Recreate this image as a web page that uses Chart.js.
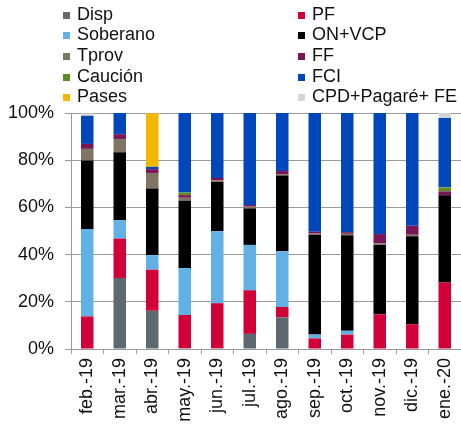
<!DOCTYPE html>
<html>
<head>
<meta charset="utf-8">
<script src="https://cdn.jsdelivr.net/npm/chart.js@4"></script>
<style>
  body { margin: 0; background: #fff; }
  #wrap { position: relative; width: 461px; height: 429px; }
  #legend { position: absolute; left: 0; top: 0; font-family: 'Liberation Sans', Arial, sans-serif; font-size: 18px; color: #111; }
  .item { position: absolute; height: 21px; line-height: 21px; white-space: nowrap; }
  .box { display: inline-block; width: 7px; height: 7px; margin-right: 7px; vertical-align: 1px; }
</style>
</head>
<body>
<div id="wrap">
  <canvas id="chart" width="461" height="429"></canvas>
  <div id="legend"></div>
</div>
<script>
// months on the x axis
const months = ['feb.-19', 'mar.-19', 'abr.-19', 'may.-19', 'jun.-19', 'jul.-19',
                'ago.-19', 'sep.-19', 'oct.-19', 'nov.-19', 'dic.-19', 'ene.-20'];

// share of each instrument, %
const disp     = [0, 30.1, 16.2, 0.3, 0.3, 6.4, 13.4, 0, 0, 0, 0, 0];
const pf       = [13.8, 16.7, 17.4, 14.1, 19.1, 18.5, 4.4, 4.5, 6.1, 14.7, 10.5, 28.2];
const soberano = [37.1, 7.8, 6.2, 19.9, 30.5, 19.2, 23.6, 1.6, 1.6, 0, 0, 0];
const onVcp    = [29, 28.8, 28.2, 28.5, 20.9, 15.5, 32.1, 42.2, 40.5, 29.4, 37.3, 36.9];
const tprov    = [4.9, 5.6, 6.6, 1.3, 0.7, 0.7, 0.6, 0.6, 0.6, 0.6, 0.6, 0];
const ff       = [2.1, 2, 1.6, 1.1, 1, 0.7, 1.3, 0.8, 0.7, 4, 3.8, 1.7];
const caucion  = [0, 0, 0, 1.1, 0, 0, 0, 0, 0, 0, 0, 1.7];
const fci      = [11.9, 9, 1, 33.7, 27.5, 39, 24.7, 50.3, 50.5, 51.3, 47.8, 29.4];
const pases    = [0, 0, 22.7, 0, 0, 0, 0, 0, 0, 0, 0, 0];
const cpd      = [1.1, 0, 0, 0, 0, 0, 0, 0, 0, 0, 0, 2.1];

const yTicks = [0, 20, 40, 60, 80, 100];

const series = [
    ['Disp', disp, '#5d6970'],
    ['PF', pf, '#d10038'],
    ['Soberano', soberano, '#62b1e6'],
    ['ON+VCP', onVcp, '#000000'],
    ['Tprov', tprov, '#807462'],
    ['FF', ff, '#7a1557'],
    ['Caución', caucion, '#5a8f23'],
    ['FCI', fci, '#0047bb'],
    ['Pases', pases, '#f2b700'],
    ['CPD+Pagaré+ FE', cpd, '#d5d5d5']
];

Chart.defaults.font.family = "'Liberation Sans', Arial, sans-serif";
Chart.defaults.font.size = 18;
Chart.defaults.color = '#111';

const datasets = series.map(function(s) {
    return {
        label: s[0],
        data: s[1],
        backgroundColor: s[2],
        borderWidth: 0,
        categoryPercentage: 0.385,
        barPercentage: 1
    };
});

const gridColor = '#9a9a9a';

const chart = new Chart(document.getElementById('chart'), {
    type: 'bar',
    data: { labels: months, datasets: datasets },
    options: {
        responsive: false,
        animation: false,
        layout: { padding: { top: 113, left: 0, right: 0, bottom: 0 } },
        plugins: { legend: { display: false }, tooltip: { enabled: false } },
        scales: {
            x: {
                stacked: true,
                grid: { drawOnChartArea: false, color: gridColor, tickLength: 5 },
                border: { color: gridColor },
                ticks: { minRotation: 90, maxRotation: 90, autoSkip: false, padding: 4, color: '#111' },
                afterFit: function(scale) {
                    scale.height = 80;
                    scale.paddingLeft = 0;
                    scale.paddingRight = 0;
                }
            },
            y: {
                stacked: true,
                min: 0,
                max: 100,
                afterBuildTicks: function(scale) {
                    scale.ticks = yTicks.map(function(v) { return { value: v }; });
                },
                grid: { color: gridColor, tickLength: 6 },
                border: { color: gridColor },
                ticks: {
                    padding: 11,
                    color: '#111',
                    callback: function(v) { return v + '%'; }
                },
                afterFit: function(scale) { scale.width = 71; }
            }
        }
    }
});

// two-column legend, same order as the stack
const legend = document.getElementById('legend');
chart.data.datasets.forEach(function(ds, i) {
    const row = Math.floor(i / 2), col = i % 2;
    const item = document.createElement('div');
    item.className = 'item';
    item.style.left = (col ? 298 : 63) + 'px';
    item.style.top = (3.5 + row * 20.7) + 'px';
    const box = document.createElement('span');
    box.className = 'box';
    box.style.background = ds.backgroundColor;
    item.appendChild(box);
    item.appendChild(document.createTextNode(ds.label));
    legend.appendChild(item);
});
</script>
</body>
</html>
